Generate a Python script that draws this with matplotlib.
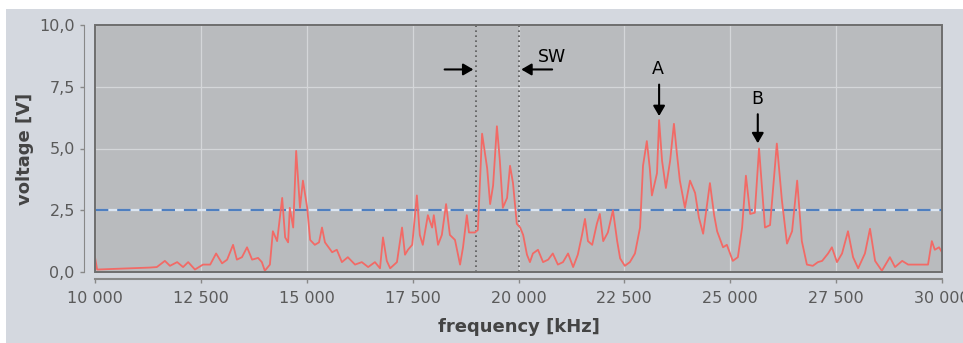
import matplotlib
matplotlib.use("Agg")
import matplotlib.pyplot as plt
from matplotlib.patches import Rectangle
from matplotlib.ticker import FuncFormatter, MultipleLocator

# spectrum (kHz, V)
freq = [10000, 10050, 10350, 10830, 11300, 11460, 11650, 11770, 11940, 12080,
        12200, 12360, 12550, 12720, 12860, 13000, 13120, 13260, 13350, 13470,
        13590, 13710, 13850, 13940, 14010, 14130, 14200, 14300, 14420, 14490,
        14560, 14600, 14680, 14750, 14840, 14910, 15010, 15080, 15190, 15290,
        15360, 15430, 15600, 15710, 15830, 15970, 16140, 16300, 16450, 16610,
        16730, 16800, 16890, 16970, 17130, 17250, 17320, 17390, 17490, 17600,
        17670, 17740, 17860, 17960, 18000, 18100, 18190, 18290, 18380, 18500,
        18620, 18690, 18780, 18830, 18970, 19040, 19140, 19260, 19330, 19400,
        19490, 19560, 19630, 19730, 19800, 19870, 19960, 20040, 20110, 20200,
        20270, 20340, 20460, 20580, 20700, 20810, 20930, 21050, 21170, 21290,
        21400, 21500, 21570, 21640, 21740, 21850, 21920, 22000, 22110, 22230,
        22330, 22400, 22510, 22630, 22750, 22870, 22940, 23030, 23100, 23150,
        23270, 23320, 23390, 23480, 23580, 23670, 23740, 23810, 23930, 24050,
        24170, 24260, 24360, 24520, 24620, 24690, 24830, 24920, 25060, 25180,
        25280, 25370, 25470, 25580, 25680, 25820, 25940, 26100, 26220, 26340,
        26460, 26580, 26690, 26810, 26950, 27070, 27170, 27310, 27400, 27520,
        27640, 27780, 27900, 28020, 28180, 28300, 28420, 28580, 28770, 28890,
        29060, 29200, 29360, 29670, 29760, 29830, 29930, 30000]
volt = [0.6, 0.1, 0.12, 0.15, 0.18, 0.2, 0.45, 0.25, 0.4, 0.2,
        0.4, 0.1, 0.3, 0.3, 0.75, 0.35, 0.5, 1.1, 0.5, 0.6,
        1.0, 0.5, 0.57, 0.4, 0.05, 0.3, 1.65, 1.25, 3.0, 1.4,
        1.2, 2.6, 1.8, 4.9, 2.6, 3.7, 2.6, 1.3, 1.1, 1.2,
        1.8, 1.2, 0.8, 0.9, 0.4, 0.6, 0.3, 0.4, 0.2, 0.4,
        0.15, 1.4, 0.45, 0.15, 0.4, 1.8, 0.7, 0.9, 1.1, 3.1,
        1.5, 1.1, 2.3, 1.8, 2.3, 1.1, 1.5, 2.75, 1.5, 1.3,
        0.3, 1.0, 2.3, 1.6, 1.6, 1.7, 5.6, 4.2, 2.75, 3.5,
        5.9, 4.5, 2.6, 3.0, 4.3, 3.6, 1.95, 1.8, 1.5, 0.7,
        0.4, 0.75, 0.9, 0.4, 0.5, 0.75, 0.3, 0.4, 0.75, 0.2,
        0.7, 1.5, 2.15, 1.25, 1.1, 1.95, 2.35, 1.25, 1.6, 2.5,
        1.25, 0.55, 0.25, 0.4, 0.75, 1.8, 4.3, 5.3, 4.2, 3.1,
        4.0, 6.15, 4.5, 3.4, 4.5, 6.0, 4.8, 3.7, 2.6, 3.7,
        3.2, 2.2, 1.55, 3.6, 2.3, 1.65, 1.0, 1.1, 0.45, 0.6,
        1.8, 3.9, 2.35, 2.4, 5.0, 1.8, 1.9, 5.2, 2.9, 1.15,
        1.65, 3.7, 1.25, 0.3, 0.25, 0.4, 0.45, 0.75, 1.0, 0.4,
        0.75, 1.65, 0.6, 0.15, 0.75, 1.75, 0.45, 0.05, 0.6, 0.2,
        0.45, 0.3, 0.3, 0.3, 1.25, 0.9, 1.0, 0.8]

threshold = 2.5
sw_bounds = [19000, 20000]

fig = plt.figure(figsize=(9.63, 3.43), dpi=100)
fig.patch.set_facecolor('white')
# light panel behind the chart
fig.add_artist(Rectangle((6/963, 0), 1, 1 - 9/343, transform=fig.transFigure,
                         facecolor='#d4d8df', edgecolor='none', zorder=0))

ax = fig.add_axes([95/963, 1 - 272/343, 847/963, 247/343])
ax.set_facecolor('#b9bbbe')

ax.plot(freq, volt, color='#f26a66', lw=1.3, zorder=3)
ax.axhline(threshold, color='#dce6f2', lw=1.6, zorder=2)
ax.axhline(threshold, color='#4f7fc0', lw=1.6, dashes=(6, 4), zorder=2)
for b in sw_bounds:
    ax.axvline(b, color='#5a5a5a', lw=1.2, ls=(0, (1, 2)), zorder=2)

ax.set_xlim(10000, 30000)
ax.set_ylim(0, 10)
ax.xaxis.set_major_locator(MultipleLocator(2500))
ax.yaxis.set_major_locator(MultipleLocator(2.5))
ax.xaxis.set_major_formatter(FuncFormatter(lambda v, p: f"{int(v):,}".replace(',', ' ')))
ax.yaxis.set_major_formatter(FuncFormatter(lambda v, p: f"{v:.1f}".replace('.', ',')))
ax.grid(True, color='#d4d6d9', lw=0.9, zorder=1)
ax.set_axisbelow(True)

# frame round the plot + offset axes
ax.add_patch(Rectangle((0, 0), 1, 1, transform=ax.transAxes, fill=False,
                       edgecolor='#6e6e6e', lw=1.4, zorder=5, clip_on=False))
for s in ['top', 'right']:
    ax.spines[s].set_visible(False)
ax.spines['left'].set_position(('outward', 8))
ax.spines['bottom'].set_position(('outward', 5))
ax.spines['left'].set_color('#888888')
ax.spines['bottom'].set_color('#888888')
ax.spines['bottom'].set_linewidth(1.5)
ax.tick_params(colors='#888888', length=3, width=1)
ax.tick_params(labelcolor='#5a5a5a', labelsize=11.5)
ax.tick_params(axis='x', pad=6)

ax.set_xlabel('frequency [kHz]', fontsize=13, color='#444444', fontweight='bold', labelpad=8)
ax.set_ylabel('voltage [V]', fontsize=13, color='#444444', fontweight='bold', labelpad=4)

# annotations
arr = dict(arrowstyle='-|>,head_width=0.35,head_length=0.6', color='black', lw=1.5)
ax.annotate('', xy=(19000, 8.2), xytext=(18190, 8.2), arrowprops=arr)
ax.annotate('', xy=(20000, 8.2), xytext=(20860, 8.2), arrowprops=arr)
ax.text(20800, 8.7, 'SW', fontsize=12.5, ha='center', va='center')
ax.annotate('', xy=(23320, 6.2), xytext=(23320, 7.7), arrowprops=arr)
ax.text(23290, 8.2, 'A', fontsize=12.5, ha='center', va='center')
ax.annotate('', xy=(25650, 5.1), xytext=(25650, 6.5), arrowprops=arr)
ax.text(25630, 7.0, 'B', fontsize=12.5, ha='center', va='center')

fig.savefig('out.png', dpi=100)
